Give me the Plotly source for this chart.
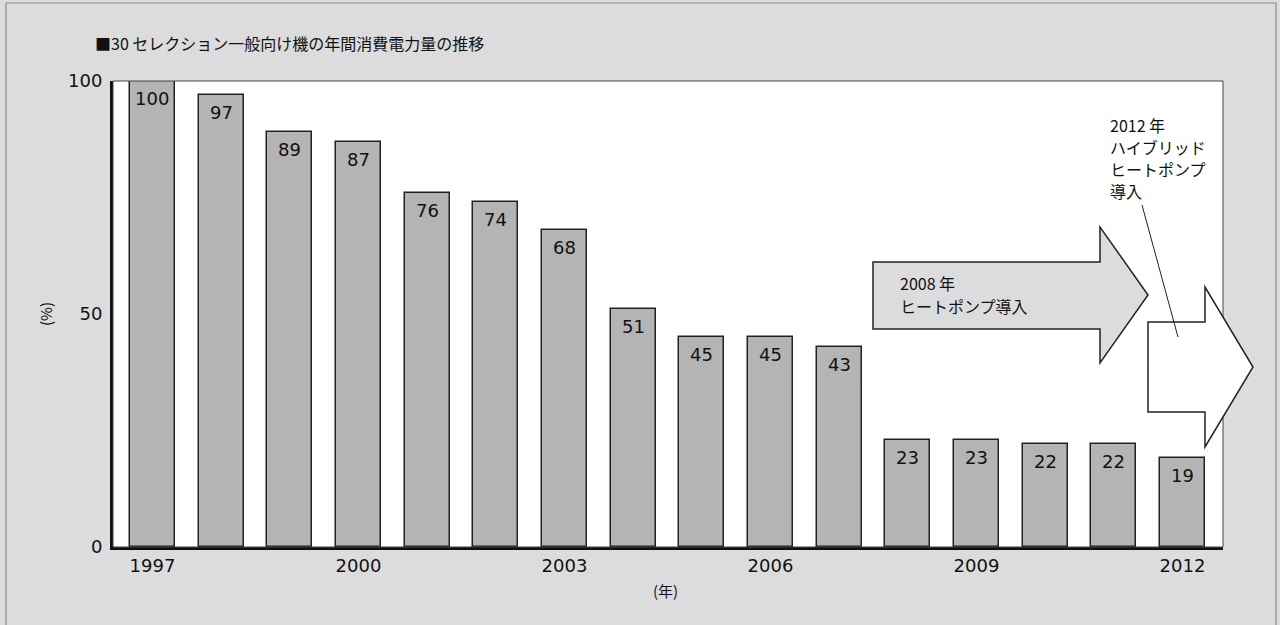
import plotly.graph_objects as go

years = list(range(1997, 2013))
values = [100, 97, 89, 87, 76, 74, 68, 51, 45, 45, 43, 23, 23, 22, 22, 19]
x_ticks = [1997, 2000, 2003, 2006, 2009, 2012]
y_ticks = [0, 50, 100]
title_text = "■30 セレクション一般向け機の年間消費電力量の推移"
y_title = "(%)"
x_title = "(年)"
note_2008 = ["2008 年", "ヒートポンプ導入"]
note_2012 = ["2012 年", "ハイブリッド", "ヒートポンプ", "導入"]

FONT = "DejaVu Sans, Noto Sans CJK JP, sans-serif"
JFONT = "Noto Sans CJK JP, DejaVu Sans, sans-serif"

# plot area pixel geometry
L, R, T, B = 113, 1223, 81, 547
W, H = R - L, B - T


def px(x):
    return (x - L) / W


def py(y):
    return (B - y) / H


fig = go.Figure()
fig.add_trace(go.Bar(
    x=years, y=values, width=0.655,
    marker=dict(color="#b4b4b4", line=dict(color="#222222", width=1.5)),
    hoverinfo="x+y",
))


def arrow_path(bx0, by0, by1, hx, hy0, hy1, tx, ty):
    pts = [(bx0, by0), (hx, by0), (hx, hy0), (tx, ty), (hx, hy1), (hx, by1), (bx0, by1)]
    return "M " + " L ".join(f"{px(a):.5f},{py(b):.5f}" for a, b in pts) + " Z"


shapes = [
    # outer frame
    dict(type="rect", xref="paper", yref="paper", x0=px(6), x1=px(1276), y0=py(640), y1=py(3),
         line=dict(color="#8a8a8a", width=1.2), fillcolor="rgba(0,0,0,0)", layer="below"),
    # plot border (thin)
    dict(type="rect", xref="paper", yref="paper", x0=0, x1=1, y0=0, y1=1,
         line=dict(color="#444444", width=1), fillcolor="rgba(0,0,0,0)", layer="above"),
    # arrow 2008
    dict(type="path", xref="paper", yref="paper",
         path=arrow_path(873, 262, 329, 1100, 227, 363, 1148, 295),
         fillcolor="#dcdcdc", line=dict(color="#222222", width=1.5)),
    # arrow 2012
    dict(type="path", xref="paper", yref="paper",
         path=arrow_path(1148, 322, 412, 1205, 287, 447, 1253, 367),
         fillcolor="#ffffff", line=dict(color="#222222", width=1.5)),
    # leader line
    dict(type="line", xref="paper", yref="paper", x0=px(1142), y0=py(205), x1=px(1178), y1=py(337),
         line=dict(color="#222222", width=1)),
]

annotations = [
    dict(text=title_text, xref="paper", yref="paper", x=px(93), y=py(43), xanchor="left", yanchor="middle",
         showarrow=False, font=dict(family=JFONT, size=16, color="#111111")),
    dict(text=y_title, xref="paper", yref="paper", x=px(45), y=py(314), xanchor="center", yanchor="middle",
         textangle=-90, showarrow=False, font=dict(family=JFONT, size=15, color="#111111")),
    dict(text=x_title, xref="paper", yref="paper", x=px(665), y=py(590), xanchor="center", yanchor="middle",
         showarrow=False, font=dict(family=JFONT, size=15, color="#111111")),
]
for i, line in enumerate(note_2008):
    annotations.append(dict(text=line, xref="paper", yref="paper", x=px(898), y=py(283 + 23 * i),
                            xanchor="left", yanchor="middle", showarrow=False,
                            font=dict(family=JFONT, size=16, color="#111111")))
for i, line in enumerate(note_2012):
    annotations.append(dict(text=line, xref="paper", yref="paper", x=px(1108), y=py(125 + 22 * i),
                            xanchor="left", yanchor="middle", showarrow=False,
                            font=dict(family=JFONT, size=16, color="#111111")))
# value labels inside the bar tops
for yr, v in zip(years, values):
    annotations.append(dict(text=str(v), x=yr, y=v, xref="x", yref="y", xanchor="center", yanchor="top",
                            yshift=-5, showarrow=False,
                            font=dict(family=FONT, size=18, color="#111111")))

fig.update_layout(
    width=1280, height=625,
    margin=dict(l=L, r=1280 - R, t=T, b=625 - B),
    paper_bgcolor="#dcdcdc", plot_bgcolor="#ffffff",
    showlegend=False, bargap=0,
    shapes=shapes, annotations=annotations,
    xaxis=dict(range=[1996.425, 2012.59], tickvals=x_ticks, ticktext=[str(t) for t in x_ticks],
               showgrid=False, zeroline=False, showline=True, linecolor="#111111", linewidth=3,
               ticks="", tickfont=dict(family=FONT, size=18, color="#111111"), fixedrange=True),
    yaxis=dict(range=[0, 100], tickvals=y_ticks, ticktext=[str(t) for t in y_ticks],
               showgrid=False, zeroline=False, showline=True, linecolor="#111111", linewidth=3,
               ticks="", ticklabelstandoff=4, tickfont=dict(family=FONT, size=18, color="#111111"),
               fixedrange=True),
)

fig.write_html("out.html")
